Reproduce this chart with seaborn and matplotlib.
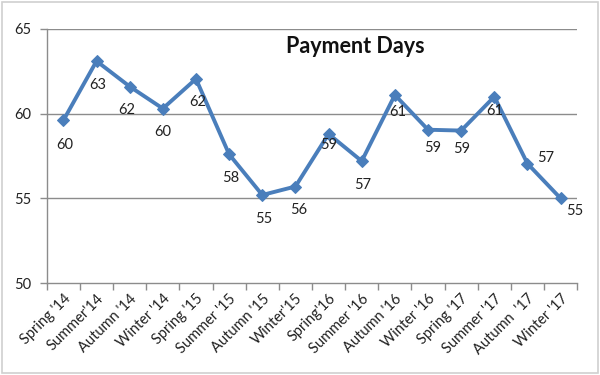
import matplotlib
matplotlib.use("Agg")
import matplotlib.pyplot as plt
import seaborn as sns
import pandas as pd
from matplotlib.patches import Rectangle

categories = ["Spring '14", "Summer'14", "Autumn '14", "Winter '14", "Spring '15",
              "Summer '15", "Autumn '15", "Winter'15", "Spring'16", "Summer '16",
              "Autumn '16", "Winter '16", "Spring '17", "Summer '17", "Autumn  '17",
              "Winter '17"]
values = [59.6, 63.1, 61.6, 60.3, 62.05, 57.6, 55.2, 55.7, 58.8, 57.2,
          61.1, 59.05, 59.0, 61.0, 57.05, 55.0]
title = "Payment Days"

sns.set_theme(style="white")
plt.rcParams['font.family'] = ['Lato', 'DejaVu Sans']

df = pd.DataFrame({"cat": categories, "val": values})

fig = plt.figure(figsize=(6, 3.75), dpi=100)
ax = fig.add_axes([0.078, 0.245, 0.884, 0.678])

line_color = "#4A7EBB"
sns.lineplot(data=df, x="cat", y="val", sort=False, ax=ax, color=line_color,
             linewidth=2.8, marker="D", markersize=6.5, markeredgecolor=line_color)

ax.set_xlim(-0.5, len(categories) - 0.5)
ax.set_ylim(50, 65)
ax.set_yticks([50, 55, 60, 65])
ax.set_yticklabels(["50", "55", "60", "65"], fontsize=10.5, color="#222222")
for y in [55, 60, 65]:
    ax.axhline(y, color="#8C8C8C", linewidth=1.0, zorder=0)

ax.set_xticks(range(len(categories)))
ax.set_xticklabels(categories, rotation=45, ha="right", rotation_mode="anchor",
                   fontsize=10.5, color="#222222")
ax.tick_params(axis="x", which="major", length=0, pad=6)
ax.set_xticks([i - 0.5 for i in range(len(categories) + 1)], minor=True)
ax.tick_params(axis="x", which="minor", length=5, width=1, color="#8C8C8C", direction="out", bottom=True)
ax.tick_params(axis="y", which="major", length=5, width=1, color="#8C8C8C", direction="out", left=True, pad=6)
ax.set_xlabel("")
ax.set_ylabel("")

for side in ["top", "right"]:
    ax.spines[side].set_visible(False)
for side in ["left", "bottom"]:
    ax.spines[side].set_color("#8C8C8C")
    ax.spines[side].set_linewidth(1.0)

offsets = [(1, -18), (1, -17), (-2, -17), (0, -17), (1, -17), (1, -17), (1, -17), (2, -17),
           (0, -8), (1, -17), (2, -12), (3, -13), (0, -13), (0, -10), (13, 4), (10, -9)]
for i, (v, off) in enumerate(zip(values, offsets)):
    ax.annotate(f"{round(v):d}", (i, v), xytext=off, textcoords="offset points",
                ha="center", va="center", fontsize=10.5, color="#222222")

ax.text(0.592, 0.875, title, transform=fig.transFigure, ha="center", va="center",
        fontsize=15.5, fontweight="bold", color="#111111")

fig.patches.append(Rectangle((0.003, 0.005), 0.994, 0.99, transform=fig.transFigure,
                             fill=False, edgecolor="#D0D0D0", linewidth=1.2))

fig.savefig("out.png", dpi=100)
